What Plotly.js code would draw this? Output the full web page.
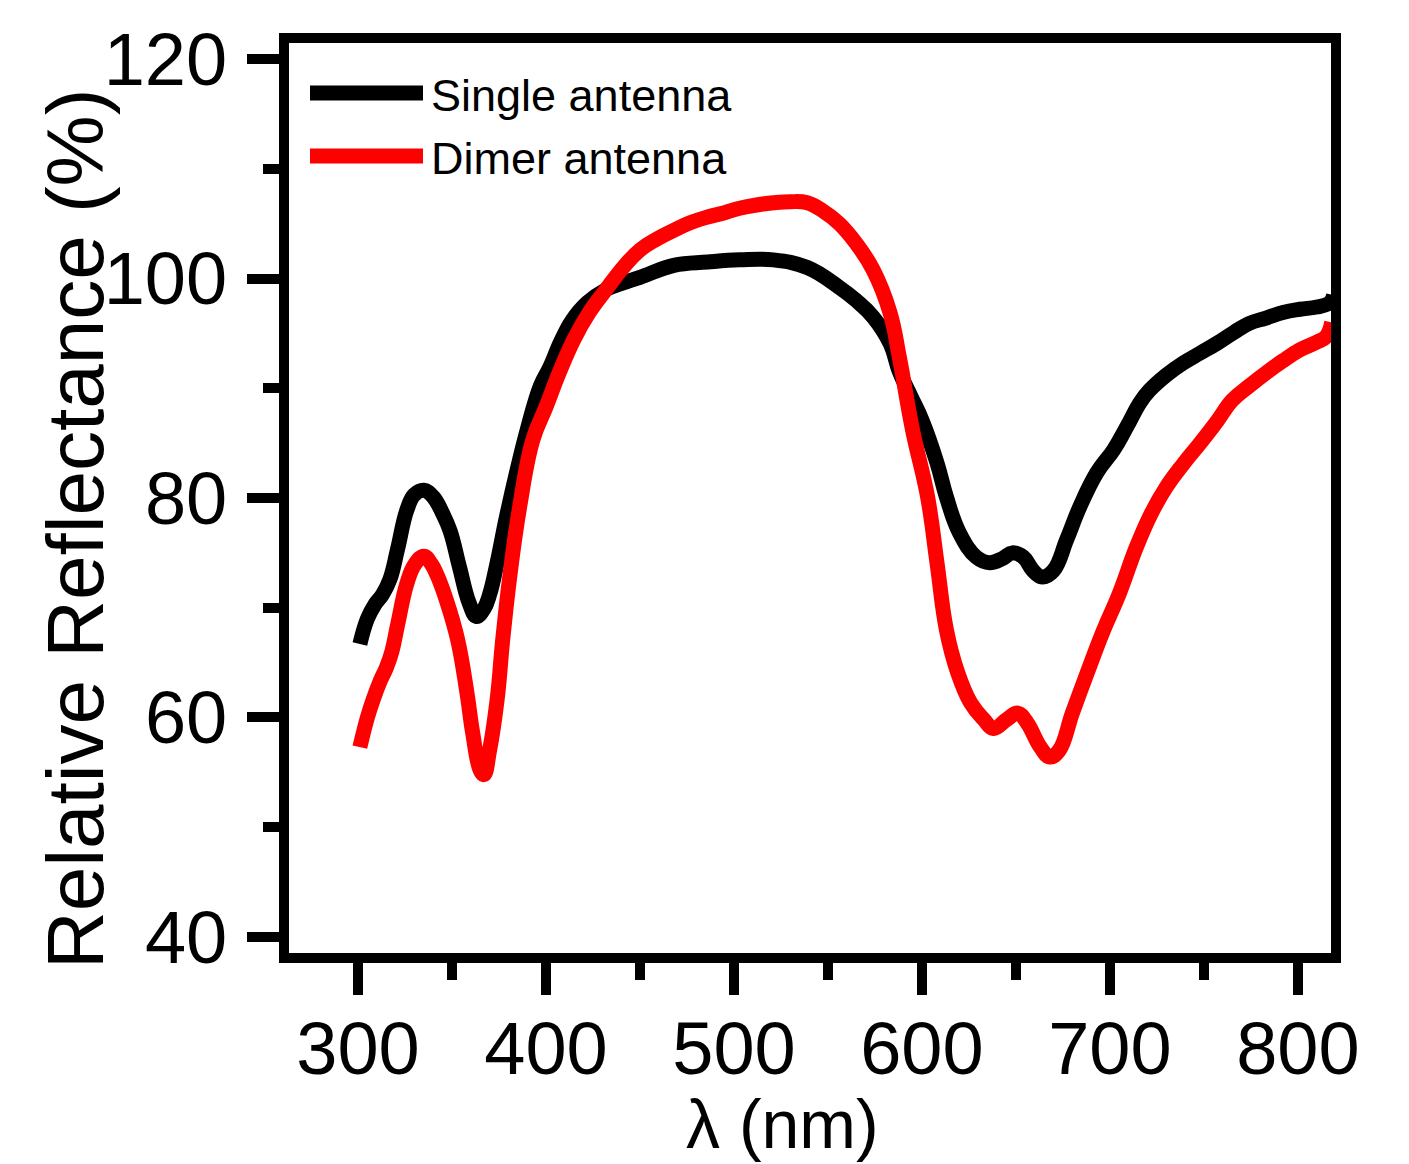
<!DOCTYPE html>
<html>
<head>
<meta charset="utf-8">
<script src="https://cdn.plot.ly/plotly-3.0.1.min.js"></script>
<style>html,body{margin:0;padding:0;background:#fff;}#chart{width:1409px;height:1164px;}</style>
</head>
<body>
<div id="chart"></div>
<script>
// ---- data ----
const singleWavelength = [301,305,309,313,317,321,326,330,335,340,345,349,354,359,363,367,370,374,379,385,390,397,402,408,414,422,432,441,450,468,486,503,521,539,556,565,574,583,588,594,600,608,613,620,629,636,643,648,654,659,664,670,677,684,693,702,709,716,721,730,739,748,757,766,774,783,792,801,810,817,819];
const singleReflectance = [66.7,69.0,70.3,71.2,72.6,75.3,78.9,80.3,80.7,80.1,78.6,77.0,73.7,70.5,69.2,69.9,71.2,74.1,78.3,82.8,86.2,90.2,91.9,94.3,96.2,97.8,99.0,99.6,100.1,101.2,101.5,101.7,101.7,101.0,99.2,98.0,96.5,94.1,91.5,89.3,87.1,83.2,80.1,76.8,74.6,74.1,74.5,75.0,74.6,73.4,72.8,73.4,76.2,79.2,82.3,84.4,86.5,88.7,89.8,91.2,92.3,93.2,94.1,95.1,95.9,96.4,96.9,97.2,97.4,97.8,98.5];

const dimerWavelength = [301,305,308,312,315,318,321,326,330,335,339,342,347,353,358,361,365,367,370,374,377,381,386,393,400,407,415,423,432,441,450,459,468,477,486,495,503,512,521,530,539,547,556,565,574,583,588,595,603,608,613,619,626,633,638,645,651,656,663,668,673,680,688,696,705,714,722,730,739,748,757,765,774,783,792,801,810,815,818];
const dimerReflectance = [57.3,60.0,61.6,63.4,64.5,66.0,68.4,72.2,73.9,74.7,74.0,73.0,70.7,67.1,62.2,58.6,55.2,54.8,57.0,61.6,67.1,73.2,79.2,85.3,88.3,91.4,94.5,96.9,99.0,101.0,102.6,103.6,104.4,105.1,105.6,106.0,106.4,106.7,106.9,107.0,106.9,106.2,105.0,103.2,100.8,96.9,92.8,86.2,80.1,74.1,68.0,64.1,61.3,59.8,59.0,59.8,60.4,59.5,57.3,56.4,57.0,60.4,64.1,67.7,71.3,75.5,78.6,81.0,83.1,85.0,87.0,88.9,90.2,91.4,92.5,93.5,94.2,94.7,96.0];

const seriesNames = ["Single antenna", "Dimer antenna"];
const seriesColors = ["#000000", "#ff0000"];
const xTickValues = [300, 400, 500, 600, 700, 800];
const yTickValues = [40, 60, 80, 100, 120];
const xTitle = "λ (nm)";
const yTitle = "Relative Reflectance (%)";

// ---- layout geometry ----
const W = 1409, H = 1164;
const M = {l: 289, r: 78, t: 43, b: 211};
const PW = W - M.l - M.r, PH = H - M.t - M.b;
const px = x => (x - M.l) / PW;
const py = y => (M.t + PH - y) / PH;
const FONT = "Liberation Sans, Arial, sans-serif";

const traces = [
  {x: singleWavelength, y: singleReflectance, name: seriesNames[0], mode: "lines",
   line: {color: seriesColors[0], width: 15, shape: "spline", smoothing: 1.2}, showlegend: false},
  {x: dimerWavelength, y: dimerReflectance, name: seriesNames[1], mode: "lines",
   line: {color: seriesColors[1], width: 15, shape: "spline", smoothing: 1.2}, showlegend: false}
];

const legendY = [93, 156];
const shapes = legendY.map((y, i) => ({
  type: "line", xref: "paper", yref: "paper",
  x0: px(310), x1: px(423), y0: py(y), y1: py(y),
  line: {color: seriesColors[i], width: 15}
}));

const annotations = [
  ...legendY.map((y, i) => ({
    text: seriesNames[i], xref: "paper", yref: "paper", x: px(429), y: py(y + 2),
    xanchor: "left", yanchor: "middle", showarrow: false,
    font: {family: FONT, size: 45, color: "#000"}
  })),
  {text: yTitle, xref: "paper", yref: "paper", x: px(75), y: py(529), textangle: -90,
   xanchor: "center", yanchor: "middle", showarrow: false,
   font: {family: FONT, size: 80, color: "#000"}},
  {text: xTitle, xref: "paper", yref: "paper", x: px(782), y: py(1124),
   xanchor: "center", yanchor: "middle", showarrow: false,
   font: {family: FONT, size: 68, color: "#000"}}
];

const axisCommon = {
  showline: true, linewidth: 10, linecolor: "#000", mirror: true,
  ticks: "outside", tickwidth: 10, tickcolor: "#000", ticklen: 32,
  showgrid: false, zeroline: false,
  tickfont: {family: FONT, size: 74, color: "#000"}
};

const layout = {
  width: W, height: H, margin: M,
  paper_bgcolor: "#fff", plot_bgcolor: "#fff",
  showlegend: false,
  xaxis: Object.assign({}, axisCommon, {
    range: [263.3, 817.6], tickmode: "array", tickvals: xTickValues,
    ticklabelstandoff: -10,
    minor: {tickmode: "linear", tick0: 350, dtick: 100, ticks: "outside", ticklen: 17, tickwidth: 10, tickcolor: "#000"}
  }),
  yaxis: Object.assign({}, axisCommon, {
    range: [38.54, 121.46], tickmode: "array", tickvals: yTickValues,
    ticklabelstandoff: 5,
    minor: {tickmode: "linear", tick0: 50, dtick: 20, ticks: "outside", ticklen: 16, tickwidth: 10, tickcolor: "#000"}
  }),
  shapes: shapes,
  annotations: annotations
};

Plotly.newPlot("chart", traces, layout, {displayModeBar: false, staticPlot: true});
</script>
</body>
</html>
